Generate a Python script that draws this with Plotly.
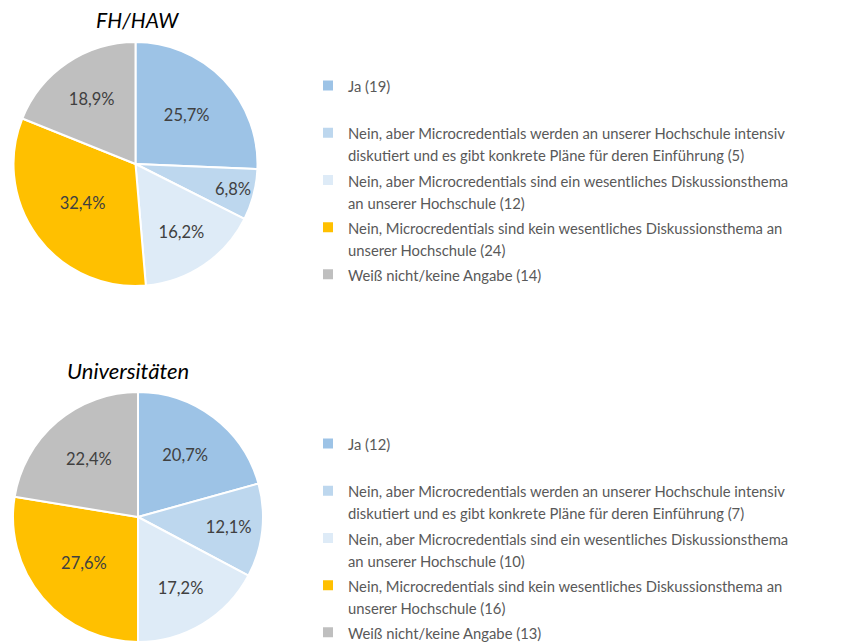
import plotly.graph_objects as go

categories = [
    "Ja",
    "Nein, aber Microcredentials werden an unserer Hochschule intensiv<br>diskutiert und es gibt konkrete Pläne für deren Einführung",
    "Nein, aber Microcredentials sind ein wesentliches Diskussionsthema<br>an unserer Hochschule",
    "Nein, Microcredentials sind kein wesentliches Diskussionsthema an<br>unserer Hochschule",
    "Weiß nicht/keine Angabe",
]
fh_counts = [19, 5, 12, 24, 14]
uni_counts = [12, 7, 10, 16, 13]
colors = ["#9DC3E6", "#BDD7EE", "#DEEBF7", "#FFC000", "#BFBFBF"]
titles = ["FH/HAW", "Universitäten"]

GLYPH = 'font-size:14.8px'


def labels_for(counts):
    out = []
    for i, (c, n) in enumerate(zip(categories, counts)):
        lines = f"{c} ({n})".split("<br>")
        if len(lines) == 1 and i < len(categories) - 1:
            lines.append("\u00a0")
        out.append("<br>".join(f'<span style="{GLYPH}">{ln}</span>' for ln in lines))
    return out


def pie(counts, domain, legend):
    return go.Pie(
        labels=labels_for(counts), values=counts,
        sort=False, direction="clockwise", rotation=0,
        marker=dict(colors=colors, line=dict(color="white", width=2)),
        texttemplate="%{percent:.1%}", textposition="inside",
        insidetextorientation="horizontal",
        textfont=dict(family="Lato", size=16.5, color="#404040"),
        domain=domain, legend=legend, hoverinfo="value+percent",
    )


fig = go.Figure()
fig.add_trace(pie(fh_counts,
                  dict(x=[13 / 844, 258 / 844], y=[1 - 286 / 643, 1 - 42 / 643]),
                  "legend"))
fig.add_trace(pie(uni_counts,
                  dict(x=[13 / 844, 263 / 844], y=[1 - 642 / 643, 1 - 392 / 643]),
                  "legend2"))

legend_common = dict(
    font=dict(family="Lato", size=17, color="#595959"),
    bgcolor="rgba(0,0,0,0)", xanchor="left", yanchor="top",
    valign="top", traceorder="normal",
)

fig.update_layout(
    width=844, height=643,
    margin=dict(l=0, r=0, t=0, b=0, autoexpand=False),
    paper_bgcolor="white", plot_bgcolor="white",
    separators=",.",
    showlegend=True,
    legend=dict(x=308 / 844, y=1 - 68 / 643, **legend_common),
    legend2=dict(x=308 / 844, y=1 - 426 / 643, **legend_common),
    annotations=[
        dict(text=f"<i>{titles[0]}</i>", x=137 / 844, y=1 - 20 / 643,
             xref="paper", yref="paper", xanchor="center", yanchor="middle",
             showarrow=False,
             font=dict(family="Lato", size=21, color="#000000")),
        dict(text=f"<i>{titles[1]}</i>", x=128 / 844, y=1 - 371 / 643,
             xref="paper", yref="paper", xanchor="center", yanchor="middle",
             showarrow=False,
             font=dict(family="Lato", size=22, color="#000000")),
    ],
)

fig.write_html("out.html")
